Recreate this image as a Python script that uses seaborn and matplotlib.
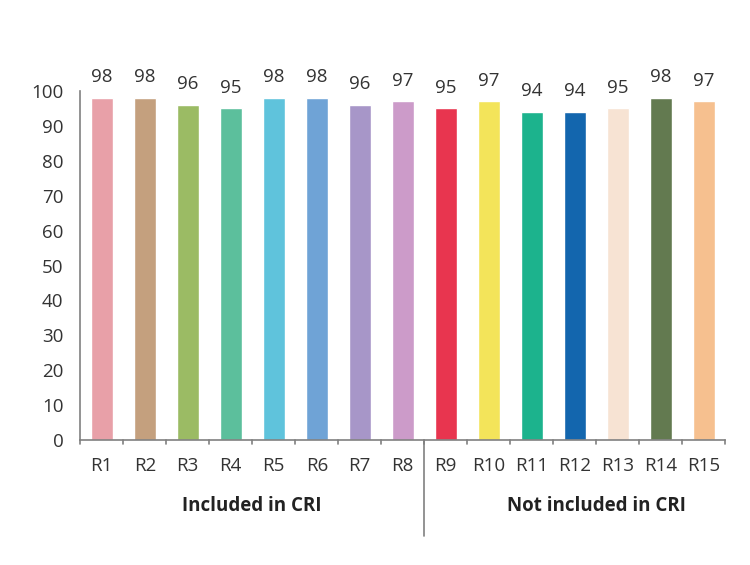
import matplotlib
matplotlib.use("Agg")
import matplotlib.pyplot as plt
import seaborn as sns
import pandas as pd

labels = ["R1", "R2", "R3", "R4", "R5", "R6", "R7", "R8",
          "R9", "R10", "R11", "R12", "R13", "R14", "R15"]
values = [98, 98, 96, 95, 98, 98, 96, 97, 95, 97, 94, 94, 95, 98, 97]
colors = ["#e8a0a8", "#c4a07e", "#9bbb64", "#5cbf9c", "#5fc3dc", "#6fa3d6",
          "#a796c8", "#cc9bc9", "#e8354f", "#f3e45a", "#1cb38d", "#1366ae",
          "#f7e3d3", "#637a50", "#f6c08f"]
groups = ["Included in CRI", "Not included in CRI"]

df = pd.DataFrame({"sample": labels, "value": values})

sns.set_style("white")
plt.rcParams["font.family"] = ["Open Sans", "DejaVu Sans"]

fig = plt.figure(figsize=(7.5, 5.65), dpi=100)
ax = fig.add_axes([0.107, 0.221, 0.86, 0.618])

sns.barplot(data=df, x="sample", y="value", hue="sample", palette=colors,
            legend=False, width=0.52, saturation=1, ax=ax)

for i, v in enumerate(values):
    ax.text(i, v + 3.3, str(v), ha="center", va="bottom", fontsize=13.5, color="#333333")

ax.set_xlim(-0.5, len(labels) - 0.5)
ax.set_ylim(0, 100)
ax.set_yticks(range(0, 101, 10))
ax.set_xlabel("")
ax.set_ylabel("")

for s in ["top", "right"]:
    ax.spines[s].set_visible(False)
for s in ["left", "bottom"]:
    ax.spines[s].set_color("#808080")
    ax.spines[s].set_linewidth(1.2)

ax.tick_params(axis="y", length=4, color="#808080", labelsize=13.5, labelcolor="#333333", pad=8)
ax.tick_params(axis="x", length=0, labelsize=13.5, labelcolor="#333333", pad=12)

# tick marks between categories
for b in range(len(labels) + 1):
    ax.plot([b - 0.5, b - 0.5], [0, -1.2], color="#808080", lw=1.2, clip_on=False)

# group divider and labels
ax.plot([7.5, 7.5], [0, -27.5], color="#808080", lw=1.2, clip_on=False)
ax.text(3.5, -19, groups[0], ha="center", va="center", fontsize=13.5, fontweight="bold", color="#222222")
ax.text(11.5, -19, groups[1], ha="center", va="center", fontsize=13.5, fontweight="bold", color="#222222")

fig.savefig("out.png", dpi=100)
